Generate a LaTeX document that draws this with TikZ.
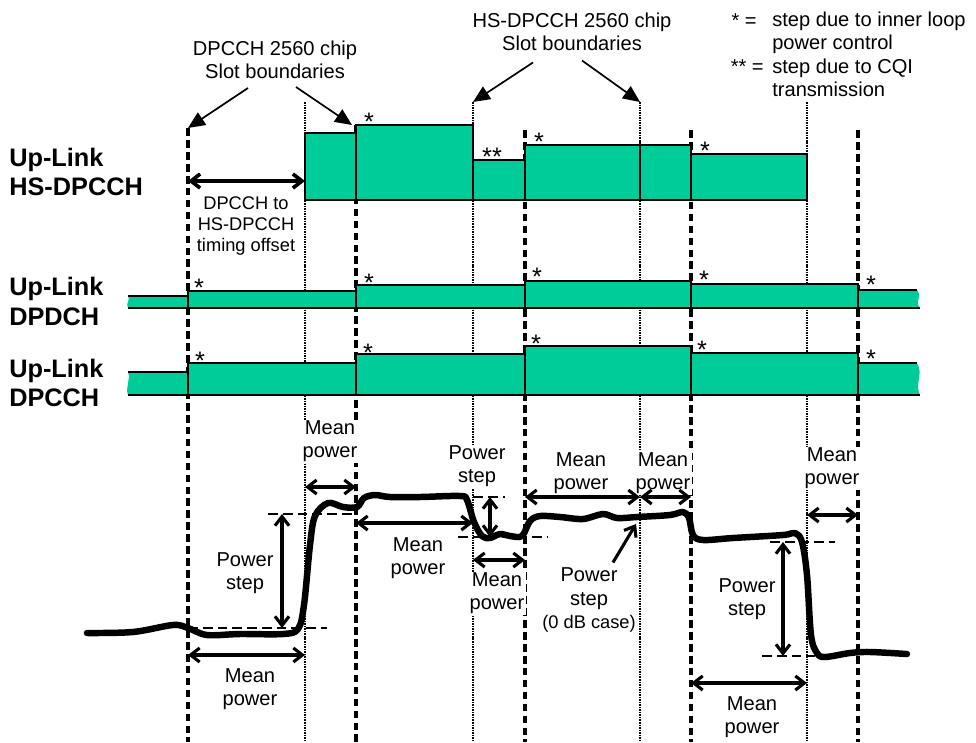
\documentclass[tikz,border=0pt]{standalone}
\usepackage{fontspec}
\setmainfont{Liberation Sans}
\usetikzlibrary{arrows.meta,calc}
\definecolor{chgreen}{RGB}{0,204,153}

\begin{document}
\begin{tikzpicture}[x=0.25mm, y=-0.25mm,
    font=\fontsize{14.3}{16.4}\selectfont,
    slotline/.style={line width=2.2pt, dash pattern=on 5.5pt off 3pt},
    subline/.style={line width=2.1pt, dash pattern=on 1.1pt off 0.7pt},
    chan/.style={line width=1.6pt},
    txt/.style={align=center, fill=white, inner sep=1pt},
    chname/.style={align=left, anchor=west, inner sep=0pt, font=\fontsize{18}{20.8}\selectfont\bfseries},
    dimarrow/.style={line width=2.2pt, {Straight Barb[length=6.5pt,width=10pt]}-{Straight Barb[length=6.5pt,width=10pt]}},
    ptr/.style={line width=2.2pt, -{Straight Barb[length=6.5pt,width=10pt]}},
    slotarrow/.style={line width=1.2pt, -{Triangle[length=12pt,width=10.5pt]}},
    refline/.style={line width=2pt, dash pattern=on 7pt off 3.5pt},
    trace/.style={line width=4.6pt, line cap=round, line join=round},
    stepstar/.style={anchor=base, inner sep=0pt, font=\fontsize{18}{20}\selectfont}
  ]
\useasboundingbox (0,0) rectangle (976,742);

% slot boundaries
\foreach \n/\x/\y in {dp0/188/128, dp1/356/125, dp2/525/130, dp3/691/130, dp4/858/130}
  \coordinate (\n) at (\x,\y);
\foreach \n/\x in {hs0/305, hs1/473, hs2/640, hs3/807}
  \coordinate (\n) at (\x,102);
\foreach \n in {dp0,dp1,dp2,dp3,dp4}
  \draw[slotline] (\n) -- (\n |- 0,742);
\foreach \n in {hs0,hs1,hs2,hs3}
  \draw[subline] (\n) -- (\n |- 0,742);

% texts
\node[txt] (slotdp) at (275,59.4) {DPCCH 2560 chip\\Slot boundaries};
\node[txt] (sloths) at (572,31.9) {HS-DPCCH 2560 chip\\Slot boundaries};
\node[anchor=base east, inner sep=0pt] (key1) at (757,27) {* =};
\node[anchor=west, align=left, inner sep=0pt] (note1) at (772,32.4) {step due to inner loop\\power control};
\node[anchor=base east, inner sep=0pt] (key2) at (764,73) {** =};
\node[anchor=west, align=left, inner sep=0pt] (note2) at (772,77.8) {step due to CQI\\transmission};

\node[chname] (nhs) at (9,172) {Up-Link\\HS-DPCCH};
\node[chname] (ndpd) at (9,301.5) {Up-Link\\DPDCH};
\node[chname] (ndpc) at (9,383) {Up-Link\\DPCCH};

\node[txt, font=\fontsize{13}{15}\selectfont] (offset) at (246,226.4) {DPCCH to\\HS-DPCCH\\timing offset};

\node[txt] (mp1) at (250,689) {Mean\\power};
\node[txt] (mp2) at (330,441.5) {Mean\\power};
\node[txt] (mp3) at (418,558.5) {Mean\\power};
\node[txt] (mp4) at (497,593.5) {Mean\\power};
\node[txt] (mp5) at (581,473) {Mean\\power};
\node[txt] (mp6) at (663,473) {Mean\\power};
\node[txt] (mp7) at (752,717.5) {Mean\\power};
\node[txt] (mp8) at (832,468.5) {Mean\\power};
\node[txt] (ps1) at (245,573.5) {Power\\step};
\node[txt] (ps2) at (477,466.5) {Power\\step};
\node[txt] (ps3) at (747,599.5) {Power\\step};
\node[txt] (pszero) at (589,600) {Power\\step\\\fontsize{13}{16.4}\selectfont(0 dB case)};

% slot pointers
\draw[slotarrow] ($(slotdp.south)+(-27,8)$) -- (dp0);
\draw[slotarrow] ($(slotdp.south)+(21,7)$) -- (352,125);
\draw[slotarrow] ($(sloths.south)+(-39,10)$) -- (hs1);
\draw[slotarrow] ($(sloths.south)+(10,8)$) -- (hs2);

% HS-DPCCH
\draw[chan, fill=chgreen] (305,200) -- (305,133) -- (356,133) -- (356,125) -- (473,125) -- (473,160)
  -- (525,160) -- (525,145) -- (691,145) -- (691,154) -- (807,154) -- (807,200) -- cycle;
\foreach \x/\y in {356/125, 473/125, 525/145, 640/145, 691/145}
  \draw[chan] (\x,\y) -- (\x,200);

% DPDCH
\fill[chgreen] (128,296) -- (188,296) -- (188,291) -- (356,291) -- (356,285) -- (525,285) -- (525,281)
  -- (691,281) -- (691,284) -- (858,284) -- (858,290) -- (917,290) .. controls (923,297) and (914,301) .. (920,308)
  -- (128,308) .. controls (125,303) and (131,300) .. cycle;
\draw[chan] (128,296) -- (188,296) -- (188,291) -- (356,291) -- (356,285) -- (525,285) -- (525,281)
  -- (691,281) -- (691,284) -- (858,284) -- (858,290) -- (917,290);
\draw[chan] (128,308) -- (920,308);
\foreach \x/\y in {188/291, 356/285, 525/281, 691/281, 858/284}
  \draw[chan] (\x,\y) -- (\x,308);

% DPCCH
\fill[chgreen] (128,372) -- (188,372) -- (188,363) -- (356,363) -- (356,354) -- (525,354) -- (525,346)
  -- (691,346) -- (691,353) -- (858,353) -- (858,363) -- (917,363) .. controls (924,375) and (914,383) .. (920,395)
  -- (128,395) .. controls (125,387) and (131,380) .. cycle;
\draw[chan] (128,372) -- (188,372) -- (188,363) -- (356,363) -- (356,354) -- (525,354) -- (525,346)
  -- (691,346) -- (691,353) -- (858,353) -- (858,363) -- (917,363);
\draw[chan] (128,395) -- (920,395);
\foreach \x/\y in {188/363, 356/354, 525/346, 691/346, 858/353}
  \draw[chan] (\x,\y) -- (\x,395);

% steps
\foreach \x/\y [count=\i] in {369/116, 539/136, 705/145, 199/282, 369/277, 537/271, 704/274, 871/279,
    200/355, 368/347, 536/338, 702/344, 871/353}
  \node[stepstar] (st\i) at (\x,\y+14.5) {*};
\node[stepstar] (stcqi) at (492,165.5) {**};

\draw[dimarrow, line width=2.6pt] (dp0 |- 0,181) -- (hs0 |- 0,181);

% measured power
\draw[trace] plot[smooth, tension=0.55] coordinates {(87,633) (133,632) (173,625) (188,628) (207,635)
  (240,634) (283,634) (298,629) (304,605) (310,545) (315,516) (328,503) (343,507) (357,507) (364,498)
  (375,495) (390,497) (420,497) (460,496) (467,500) (474,522) (482,536) (490,538) (500,534) (510,536)
  (522,536) (530,521) (540,516) (560,517) (583,519) (603,514) (617,518) (637,517) (670,515) (683,512)
  (689,518) (693,535) (703,540) (733,538) (783,535) (795,533) (802,542) (807,575) (811,635) (817,653)
  (825,657) (850,653) (870,652) (907,654)};

\draw[refline] (268,514) -- (357,514);
\draw[refline] (188,628) -- (327,628);
\draw[refline] (473,497) -- (505,497);
\draw[refline] (458,537) -- (547,537);
\draw[refline] (770,542) -- (835,542);
\draw[refline] (762,656) -- (815,656);

\coordinate (ps1t) at (282,514);
\coordinate (ps1b) at (282,628);
\coordinate (ps2t) at (490,497);
\coordinate (ps2b) at (490,537);
\coordinate (ps3t) at (783,542);
\coordinate (ps3b) at (783,656);
\draw[dimarrow] (ps1t) -- (ps1b);
\draw[dimarrow] (ps2t) -- (ps2b);
\draw[dimarrow] (ps3t) -- (ps3b);

\draw[dimarrow] (dp0 |- 0,655) -- (hs0 |- 0,655);
\draw[dimarrow] (hs0 |- 0,487) -- (dp1 |- 0,487);
\draw[dimarrow] (dp1 |- 0,523) -- (hs1 |- 0,523);
\draw[dimarrow] (hs1 |- 0,560) -- (dp2 |- 0,560);
\draw[dimarrow] (dp2 |- 0,497) -- (hs2 |- 0,497);
\draw[dimarrow] (hs2 |- 0,497) -- (dp3 |- 0,497);
\draw[dimarrow] (dp3 |- 0,683) -- (hs3 |- 0,683);
\draw[dimarrow] (hs3 |- 0,515) -- (dp4 |- 0,515);

\coordinate (zerotip) at (636,524);
\draw[ptr] ($(pszero.north)+(24,-4)$) -- (zerotip);

\end{tikzpicture}
\end{document}
